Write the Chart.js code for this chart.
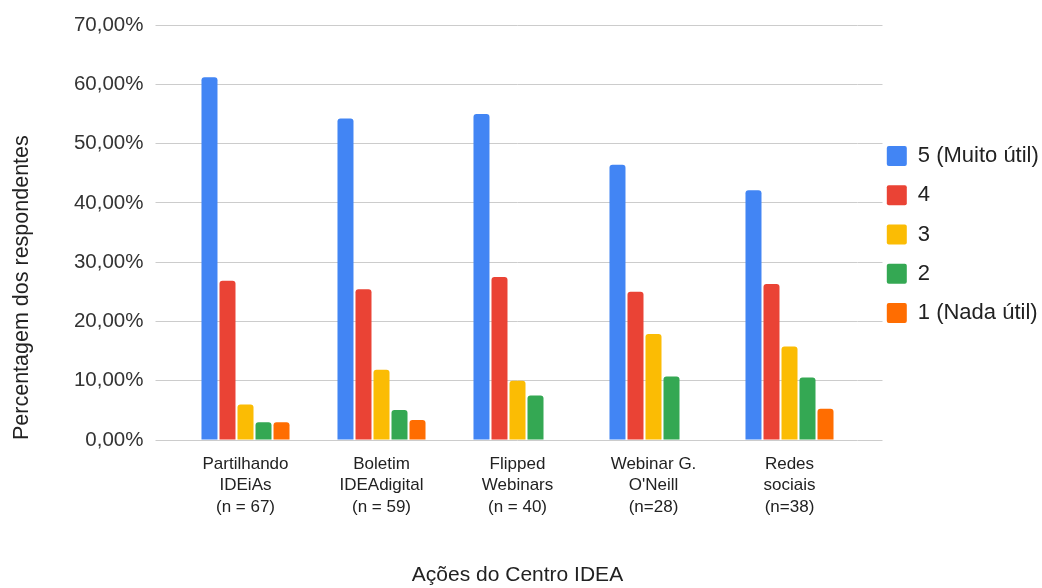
<!DOCTYPE html>
<html>
<head>
<meta charset="utf-8">
<script src="https://cdn.jsdelivr.net/npm/chart.js@4.4.0/dist/chart.umd.min.js"></script>
<style>
  html, body { margin: 0; padding: 0; background: #fff; }
</style>
</head>
<body>
<canvas id="chart" width="1042" height="588"></canvas>
<script>
// Ações do Centro IDEA, % of respondents per usefulness level
const acoes = [
  ['Partilhando', 'IDEiAs', '(n = 67)'],
  ['Boletim', 'IDEAdigital', '(n = 59)'],
  ['Flipped', 'Webinars', '(n = 40)'],
  ['Webinar G.', "O'Neill", '(n=28)'],
  ['Redes', 'sociais', '(n=38)'],
]
const niveis = ['5 (Muito útil)', '4', '3', '2', '1 (Nada útil)']
const muitoUtil = [61.19, 54.24, 55.0, 46.43, 42.11]
const nivel4 = [26.87, 25.42, 27.5, 25.0, 26.32]
const nivel3 = [5.97, 11.86, 10.0, 17.86, 15.79]
const nivel2 = [2.99, 5.08, 7.5, 10.71, 10.53]
const nadaUtil = [2.99, 3.39, 0, 0, 5.26]
const yTickLabels = ['0,00%', '10,00%', '20,00%', '30,00%', '40,00%', '50,00%', '60,00%', '70,00%']
const cores = ['#4285f4', '#ea4335', '#fbbc04', '#34a853', '#ff6d01']

const fonte = "'Liberation Sans', Arial, sans-serif"
const corGrelha = '#cccccc'

// gridlines in the reference run a bit past the last group
const extendGrid = {
  id: 'extendGrid',
  beforeDatasetsDraw(chart) {
    const { ctx, chartArea, scales } = chart
    ctx.save()
    ctx.strokeStyle = corGrelha
    ctx.lineWidth = 1
    scales.y.ticks.forEach((t) => {
      const y = Math.round(scales.y.getPixelForValue(t.value) - 0.5) + 0.5
      ctx.beginPath()
      ctx.moveTo(chartArea.right, y)
      ctx.lineTo(chartArea.right + 25, y)
      ctx.stroke()
    })
    ctx.restore()
  },
}

// fixed legend width, then nudge it past the extended grid
const legendPlacement = {
  id: 'legendPlacement',
  beforeInit(chart) {
    const fit = chart.legend.fit
    chart.legend.fit = function () {
      fit.call(this)
      this.width = 184.5
    }
  },
  afterLayout(chart) {
    chart.legend.left += 12
    chart.legend.right += 12
    chart.legend.top += 2
    chart.legend.bottom += 2
  },
}

const series = [muitoUtil, nivel4, nivel3, nivel2, nadaUtil]

new Chart(document.getElementById('chart'), {
  type: 'bar',
  data: {
    labels: acoes,
    datasets: series.map((valores, i) => ({
      label: niveis[i],
      data: valores,
      backgroundColor: cores[i],
      borderWidth: 0,
      borderRadius: 3,
      categoryPercentage: 0.662,
      barPercentage: 0.889,
    })),
  },
  options: {
    responsive: false,
    animation: false,
    layout: { padding: { top: 25, left: 0, right: 0, bottom: 0 } },
    plugins: {
      tooltip: { enabled: false },
      legend: {
        position: 'right',
        align: 'center',
        fullSize: false,
        labels: {
          boxWidth: 20,
          boxHeight: 20,
          padding: 17.3,
          useBorderRadius: true,
          borderRadius: 2,
          color: '#222',
          font: { family: fonte, size: 22 },
        },
      },
    },
    scales: {
      x: {
        grid: { display: false },
        border: { display: false },
        ticks: {
          color: '#222',
          padding: 5,
          maxRotation: 0,
          autoSkip: false,
          font: { family: fonte, size: 17, lineHeight: 1.276 },
        },
        title: {
          display: true,
          text: 'Ações do Centro IDEA',
          color: '#222',
          padding: { top: 0, bottom: 0 },
          font: { family: fonte, size: 21 },
        },
        afterFit(scale) {
          scale.height = 148
        },
      },
      y: {
        min: 0,
        max: 70,
        border: { display: false },
        grid: { color: corGrelha, tickLength: 22 },
        ticks: {
          stepSize: 10,
          padding: 12,
          color: '#333',
          font: { family: fonte, size: 20.5 },
          callback: (v, i) => yTickLabels[i],
        },
        title: {
          display: true,
          text: 'Percentagem dos respondentes',
          align: 'start',
          color: '#222',
          padding: { top: 9, bottom: 0 },
          font: { family: fonte, size: 21.5 },
        },
        afterFit(scale) {
          scale.width = 177.5
        },
      },
    },
  },
  plugins: [extendGrid, legendPlacement],
})
</script>
</body>
</html>
